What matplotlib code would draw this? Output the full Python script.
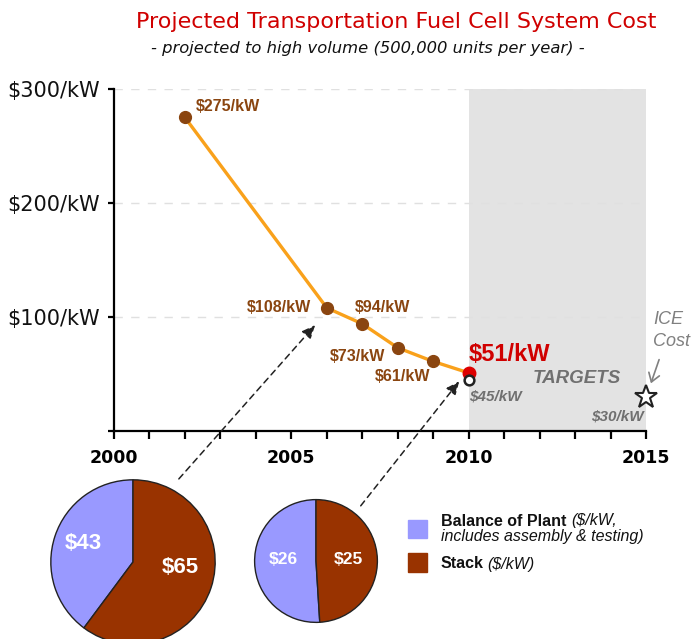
import matplotlib
matplotlib.use("Agg")
import matplotlib.pyplot as plt
from matplotlib.patches import Rectangle, FancyArrowPatch

# ---- data ----
years = [2002, 2006, 2007, 2008, 2009, 2010]
costs = [275, 108, 94, 73, 61, 51]
cost_labels = ["$275/kW", "$108/kW", "$94/kW", "$73/kW", "$61/kW", "$51/kW"]
target_2010 = 45
target_2015 = 30
target_labels = ["$45/kW", "$30/kW"]
ytick_vals = [0, 100, 200, 300]
ytick_labels = ["", "$100/kW", "$200/kW", "$300/kW"]
xtick_major = [2000, 2005, 2010, 2015]
pie_2006 = [43, 65]     # balance of plant, stack
pie_2010 = [26, 25]
pie_labels_2006 = ["$43", "$65"]
pie_labels_2010 = ["$26", "$25"]

W, H = 695, 639
fig = plt.figure(figsize=(W / 100, H / 100), dpi=100)

def fx(px):
    return px / W

def fy(py):
    return 1 - py / H

BROWN = "#8A4510"
ORANGE = "#F9A11B"
RED = "#D00000"
GRAY = "#707070"
PURPLE = "#9999FF"
STACK = "#993300"
ARIAL = "Liberation Sans"

ax = fig.add_axes([fx(114), fy(431), fx(646) - fx(114), fy(89) - fy(431)])
ax.set_xlim(2000, 2015)
ax.set_ylim(0, 300)
ax.axvspan(2010, 2015, color="#E3E3E3", zorder=0, lw=0)
for v in [100, 200, 300]:
    ax.axhline(v, color="#E0E0E0", lw=1, ls=(0, (6, 6)), zorder=0.5)

ax.plot(years, costs, color=ORANGE, lw=2.4, zorder=2)
ax.plot(years[:-1], costs[:-1], "o", color=BROWN, ms=8.5, zorder=3)
ax.plot([years[-1]], [costs[-1]], "o", color="#DD0000", ms=9, zorder=3)
ax.plot([2010], [target_2010], "o", mfc="white", mec="#222222", mew=1.8, ms=7, zorder=3)
ax.plot([2015], [target_2015], "*", mfc="white", mec="#222222", mew=1.5, ms=17, zorder=3, clip_on=False)

for s in ["top", "right"]:
    ax.spines[s].set_visible(False)
for s in ["left", "bottom"]:
    ax.spines[s].set_linewidth(1.6)
ax.set_yticks(ytick_vals)
ax.set_yticklabels(ytick_labels, fontsize=15, color="#111111", family="DejaVu Sans")
ax.tick_params(axis="y", length=4.5, width=1.6, pad=5.5)
ax.set_xticks(xtick_major)
ax.set_xticklabels([str(x) for x in xtick_major], fontsize=12.5, fontweight="bold", family="DejaVu Sans")
ax.set_xticks(list(range(2000, 2016)), minor=True)
ax.tick_params(axis="x", which="both", length=6, width=1.6, pad=7)

# data labels
lab_kw = dict(fontsize=11.5, fontweight="bold", color=BROWN, family=ARIAL,
              textcoords="offset points", va="center")
ax.annotate(cost_labels[0], (2002, 275), xytext=(8, 8), ha="left", **lab_kw)
ax.annotate(cost_labels[1], (2006, 108), xytext=(-34.5, 0), ha="center", **lab_kw)
ax.annotate(cost_labels[2], (2007, 94), xytext=(14.4, 12), ha="center", **lab_kw)
ax.annotate(cost_labels[3], (2008, 73), xytext=(-29, -6.5), ha="center", **lab_kw)
ax.annotate(cost_labels[4], (2009, 61), xytext=(-22, -11), ha="center", **lab_kw)
ax.annotate(cost_labels[5], (2010, 51), xytext=(0, 13), textcoords="offset points", ha="left", va="center",
            fontsize=17, fontweight="bold", color=RED, family=ARIAL)
ax.annotate(target_labels[0], (2010, target_2010), xytext=(0, -12), textcoords="offset points", ha="left", va="center",
            fontsize=11, fontweight="bold", style="italic", color=GRAY, family=ARIAL)
ax.annotate(target_labels[1], (2015, target_2015), xytext=(-2, -14), textcoords="offset points", ha="right", va="center",
            fontsize=11, fontweight="bold", style="italic", color=GRAY, family=ARIAL)
ax.text(2013.05, 46, "TARGETS", ha="center", va="center", fontsize=13.5, fontweight="bold", style="italic",
        color=GRAY, family=ARIAL)
fig.text(fx(653), fy(319), "ICE", ha="left", va="center", fontsize=13, style="italic", color="#808080", family=ARIAL)
fig.text(fx(653), fy(341), "Cost", ha="left", va="center", fontsize=13, style="italic", color="#808080", family=ARIAL)
fig.add_artist(FancyArrowPatch((fx(660), fy(357)), (fx(650), fy(386)),
               transform=fig.transFigure, arrowstyle="->,head_length=6,head_width=4", color="#808080", lw=1.2))

# title
fig.text(fx(396), fy(22), "Projected Transportation Fuel Cell System Cost", ha="center", va="center",
         fontsize=16, color=RED, family="DejaVu Sans")
fig.text(fx(368), fy(48), "- projected to high volume (500,000 units per year) -", ha="center", va="center",
         fontsize=11.8, style="italic", color="#111111", family="DejaVu Sans")

# pies
def draw_pie(cx, cy, r, vals, labels, pos, fs):
    pax = fig.add_axes([fx(cx - r), fy(cy + r), fx(2 * r), 2 * r / H])
    pax.pie(vals, colors=[PURPLE, STACK], startangle=90, counterclock=True,
            wedgeprops=dict(edgecolor="#222222", linewidth=1.0))
    pax.set_aspect("auto")
    pax.set_xlim(-1.01, 1.01)
    pax.set_ylim(-1.01, 1.01)
    for lab, (x, y) in zip(labels, pos):
        pax.text(x, y, lab, ha="center", va="center", color="white", fontsize=fs, fontweight="bold", family=ARIAL)
    return pax

draw_pie(133, 562, 83, pie_2006, pie_labels_2006, [(-0.6, 0.23), (0.58, -0.07)], 16)
draw_pie(316, 561, 62, pie_2010, pie_labels_2010, [(-0.53, 0.02), (0.53, 0.02)], 12.5)

# dashed arrows from pies to points
fig.add_artist(FancyArrowPatch((fx(177), fy(481)), (fx(317), fy(323)),
               transform=fig.transFigure, arrowstyle="-|>,head_length=8,head_width=3.5", color="#222222",
               lw=1.1, ls=(0, (4, 3))))
fig.add_artist(FancyArrowPatch((fx(359), fy(508)), (fx(461), fy(379)),
               transform=fig.transFigure, arrowstyle="-|>,head_length=8,head_width=3.5", color="#222222",
               lw=1.1, ls=(0, (4, 3))))

# legend
fig.add_artist(Rectangle((fx(408), fy(538)), fx(19), 18 / H, transform=fig.transFigure, color=PURPLE))
fig.add_artist(Rectangle((fx(408), fy(572)), fx(19), 19 / H, transform=fig.transFigure, color=STACK))
fig.text(fx(441), fy(521), "Balance of Plant ", ha="left", va="center", fontsize=11.5, fontweight="bold",
         color="#111111", family=ARIAL)
fig.text(fx(571), fy(521), "($/kW,", ha="left", va="center", fontsize=11.5, style="italic",
         color="#111111", family=ARIAL)
fig.text(fx(441), fy(537), "includes assembly & testing)", ha="left", va="center", fontsize=11.5, style="italic",
         color="#111111", family=ARIAL)
fig.text(fx(441), fy(564), "Stack", ha="left", va="center", fontsize=11.5, fontweight="bold",
         color="#111111", family=ARIAL)
fig.text(fx(487), fy(564), "($/kW)", ha="left", va="center", fontsize=11.5, style="italic",
         color="#111111", family=ARIAL)

fig.savefig("out.png", dpi=100)
